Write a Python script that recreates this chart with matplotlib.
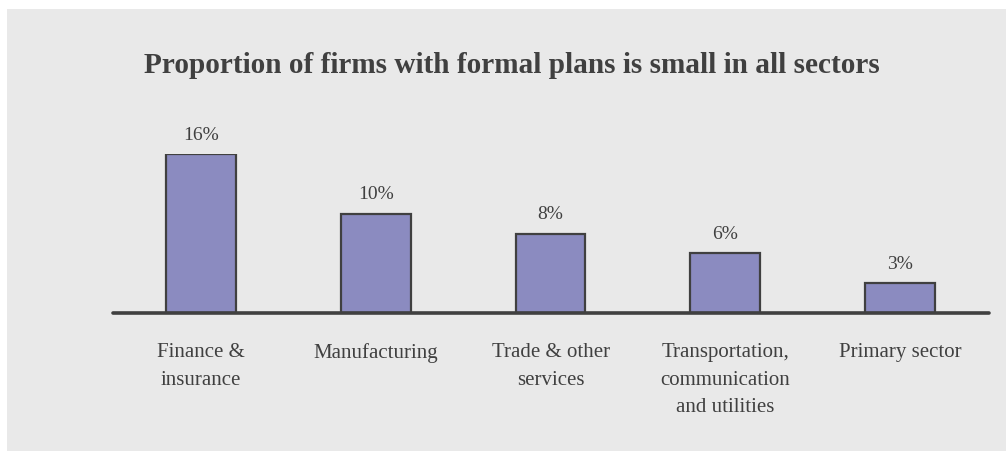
import matplotlib.pyplot as plt
from matplotlib.patches import Rectangle

# Share of firms with formal plans, by sector
sectors = ['Finance &\ninsurance', 'Manufacturing', 'Trade & other\nservices',
           'Transportation,\ncommunication\nand utilities', 'Primary sector']
shares = [16, 10, 8, 6, 3]

plt.rcParams['font.family'] = ['Liberation Serif', 'DejaVu Serif']
TEXT = '#404040'
BG = '#E9E9E9'

fig = plt.figure(figsize=(10.06, 4.52), dpi=100, facecolor=BG)
W, H = 1006, 452

# thin white margin on the top and left sides
for xy, w, h in [((0, 1 - 10 / H), 1, 10 / H), ((0, 0), 7 / W, 1)]:
    fig.patches.append(Rectangle(xy, w, h, transform=fig.transFigure,
                                 facecolor='white', edgecolor='none',
                                 zorder=-5))

ax = fig.add_axes([113 / W, (H - 314) / H, 876 / W, (314 - 155) / H])
ax.set_facecolor('none')
ax.set_zorder(1)

x = range(len(sectors))
bars = ax.bar(x, shares, width=0.40, color='#8B8BC0', edgecolor=TEXT,
              linewidth=1.6, zorder=2)

for rect, v in zip(bars, shares):
    ax.annotate(f'{v}%', (rect.get_x() + rect.get_width() / 2, v),
                xytext=(0, 11), textcoords='offset points',
                ha='center', va='baseline', fontsize=14, color=TEXT,
                annotation_clip=False)

ax.set_xlim(-0.505, 4.51)
ax.set_ylim(0, 16)
ax.set_xticks(list(x))
ax.set_xticklabels(sectors, fontsize=15, color=TEXT, linespacing=1.6,
                   va='top')
ax.tick_params(axis='x', length=0, pad=21)
ax.set_yticks([])

for side in ['top', 'right', 'left']:
    ax.spines[side].set_visible(False)
ax.spines['bottom'].set_color(TEXT)
ax.spines['bottom'].set_linewidth(2.6)
ax.spines['bottom'].set_capstyle('round')
ax.spines['bottom'].set_zorder(3)

fig.text(512 / W, 1 - 73 / H,
         'Proportion of firms with formal plans is small in all sectors',
         ha='center', va='baseline', fontsize=21.1, fontweight='bold',
         color=TEXT)

fig.savefig('out.png', dpi=100, facecolor=fig.get_facecolor())
